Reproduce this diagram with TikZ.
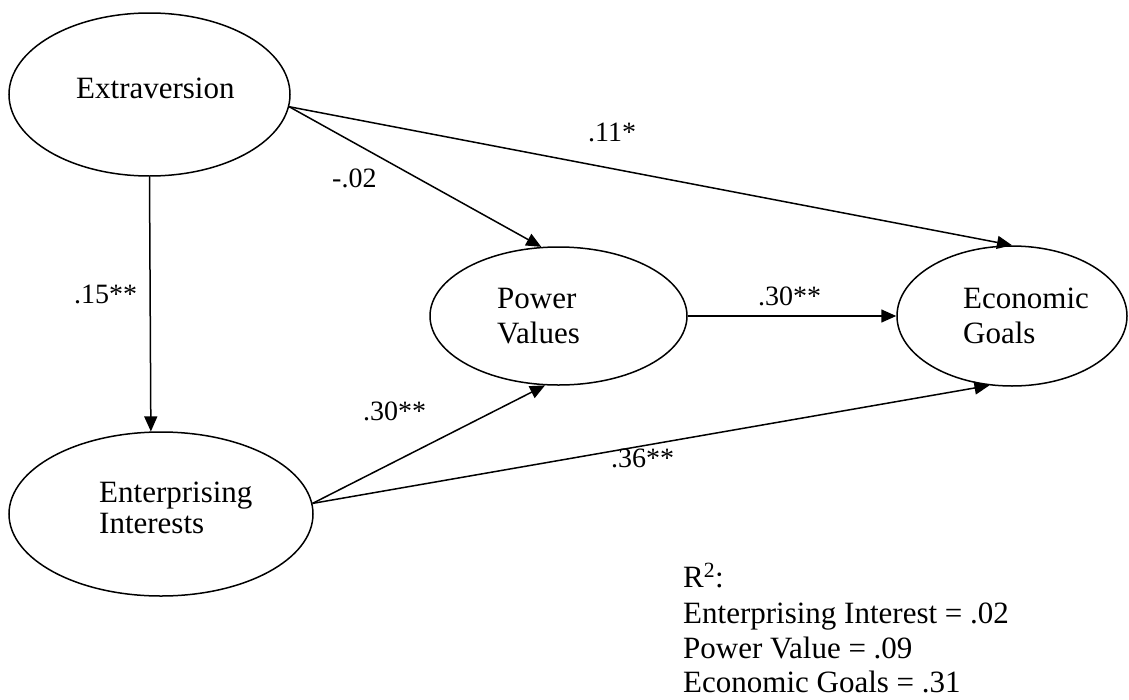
\documentclass[tikz,border=0pt]{standalone}
\usepackage{fontspec}
\setmainfont{Liberation Serif}
\usetikzlibrary{shapes.geometric,arrows.meta}
\begin{document}
\begin{tikzpicture}[x=1pt,y=-1pt,
  ell/.style={draw, ellipse, line width=1.5pt, inner sep=0pt},
  txt/.style={anchor=base west, inner sep=0pt, font=\fontsize{31}{35}\selectfont},
  coef/.style={anchor=base west, inner sep=0pt, font=\fontsize{28}{32}\selectfont},
  arr/.style={line width=1.5pt, -{Triangle[length=15pt,width=13pt]}}]
\useasboundingbox (0,0) rectangle (1129,699);
% latent variables
\node[ell, minimum width=281pt, minimum height=163pt] (ext) at (149.5,94.5) {};
\node[ell, minimum width=304pt, minimum height=164pt] (ent) at (161,514) {};
\node[ell, minimum width=257pt, minimum height=138pt] (pow) at (558.5,316) {};
\node[ell, minimum width=230pt, minimum height=140pt] (eco) at (1012,316) {};
% texts inside the ellipses
\node[txt] (ext-t) at (76,98) {Extraversion};
\node[txt] (ent-t1) at (99,502) {Enterprising};
\node[txt] (ent-t2) at (99,533) {Interests};
\node[txt] (pow-t1) at (497,308) {Power};
\node[txt] (pow-t2) at (497,343) {Values};
\node[txt] (eco-t1) at (963,308) {Economic};
\node[txt] (eco-t2) at (963,343) {Goals};
% paths
\draw[arr] (ext.-5) -- (eco.north);
\draw[arr] (ext.-5) -- (pow.104);
\draw[arr] (ext.south) -- (ent.97.7);
\draw[arr] (pow.east) -- (eco.west);
\draw[arr] (ent.4.5) -- (pow.259);
\draw[arr] (ent.4.5) -- (eco.252);
% coefficients
\node[coef] (l11) at (588,141) {.11*};
\node[coef] (l02) at (332,187) {-.02};
\node[coef] (l15) at (74,303) {.15**};
\node[coef] (l30a) at (758,305) {.30**};
\node[coef] (l30b) at (363,420) {.30**};
\node[coef] (l36) at (611,467) {.36**};
% R squared
\node[txt] (r2) at (683,587) {R\textsuperscript{2}:};
\node[txt] (r2a) at (683,623) {Enterprising Interest = .02};
\node[txt] (r2b) at (683,658) {Power Value = .09};
\node[txt] (r2c) at (683,692) {Economic Goals = .31};
\end{tikzpicture}
\end{document}
